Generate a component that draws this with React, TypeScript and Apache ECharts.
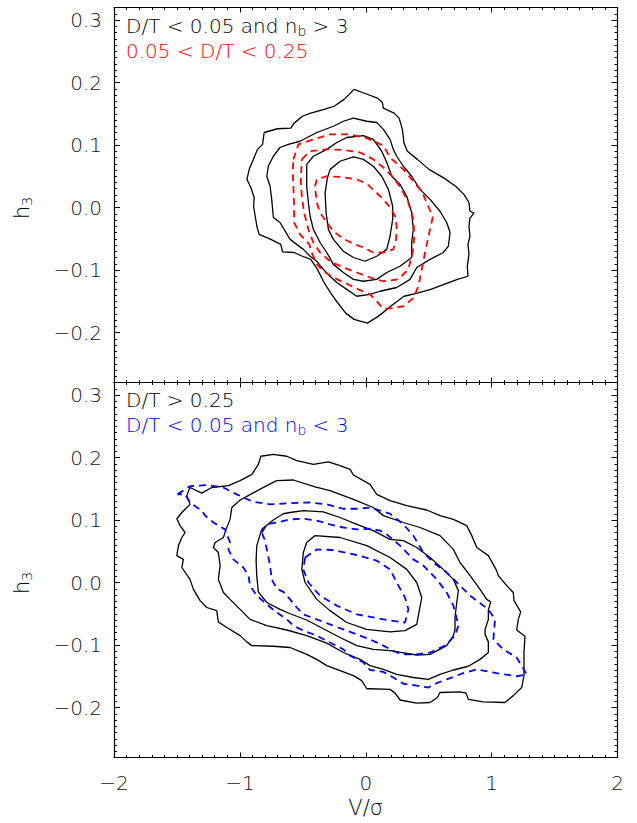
import React, { useEffect, useRef } from "react";
import * as echarts from "echarts";

// ---------- axes ----------
const xMin = -2;
const xMax = 2;
const xInterval = 1;
const yMin = -0.28;
const yMax = 0.32;
const yTickValues = [-0.2, -0.1, 0.0, 0.1, 0.2, 0.3];
const yMinorStep = 0.01;

// ---------- texts ----------
const topLegendBlack = "{t|D/T < 0.05 and n}{s|b}{t| > 3}";
const topLegendRed = "0.05 < D/T < 0.25";
const botLegendBlack = "D/T > 0.25";
const botLegendBlue = "{t|D/T < 0.05 and n}{s|b}{t| < 3}";
const yName = "{h|h}{s|3}";
const xName = "V/\u03c3";

// ---------- top panel contours ----------
const topBlack1 = [
  [-0.093, 0.189], [0.0, 0.182], [0.093, 0.175], [0.132, 0.168], [0.14, 0.159], [0.225, 0.151],
  [0.265, 0.143], [0.291, 0.125], [0.304, 0.103], [0.331, 0.09], [0.41, 0.077], [0.503, 0.061],
  [0.622, 0.047], [0.714, 0.034], [0.78, 0.021], [0.82, 0.008], [0.828, -0.006], [0.86, -0.009],
  [0.828, -0.017], [0.82, -0.03], [0.828, -0.046], [0.812, -0.059], [0.82, -0.075], [0.807, -0.094],
  [0.812, -0.11], [0.728, -0.115], [0.622, -0.123], [0.516, -0.131], [0.41, -0.137], [0.304, -0.142],
  [0.198, -0.158], [0.132, -0.169], [0.093, -0.175], [0.013, -0.185], [-0.093, -0.179], [-0.159, -0.169],
  [-0.225, -0.152], [-0.278, -0.137], [-0.331, -0.12], [-0.384, -0.099], [-0.437, -0.083], [-0.503, -0.078],
  [-0.569, -0.072], [-0.661, -0.071], [-0.675, -0.059], [-0.754, -0.051], [-0.847, -0.043], [-0.865, -0.03],
  [-0.878, -0.014], [-0.891, 0.002], [-0.886, 0.016], [-0.913, 0.032], [-0.944, 0.045], [-0.926, 0.061],
  [-0.899, 0.074], [-0.86, 0.093], [-0.82, 0.101], [-0.807, 0.12], [-0.701, 0.126], [-0.595, 0.127],
  [-0.569, 0.135], [-0.503, 0.146], [-0.437, 0.151], [-0.331, 0.157], [-0.251, 0.162], [-0.172, 0.173],
  [-0.132, 0.181],
];
const topBlack2 = [
  [-0.522, 0.106], [-0.389, 0.12], [-0.257, 0.13], [-0.178, 0.138], [-0.098, 0.143], [0.008, 0.138],
  [0.087, 0.136], [0.14, 0.125], [0.193, 0.109], [0.219, 0.093], [0.246, 0.082], [0.299, 0.066],
  [0.365, 0.05], [0.431, 0.029], [0.511, 0.013], [0.59, -0.006], [0.643, -0.024], [0.67, -0.04],
  [0.656, -0.062], [0.616, -0.072], [0.511, -0.083], [0.405, -0.096], [0.352, -0.115], [0.246, -0.128],
  [0.114, -0.134], [0.034, -0.139], [-0.071, -0.142], [-0.151, -0.131], [-0.23, -0.12], [-0.284, -0.11],
  [-0.337, -0.099], [-0.389, -0.086], [-0.442, -0.078], [-0.496, -0.067], [-0.601, -0.051], [-0.681, -0.024],
  [-0.734, -0.016], [-0.747, 0.013], [-0.76, 0.034], [-0.786, 0.05], [-0.774, 0.066], [-0.734, 0.082],
  [-0.681, 0.096], [-0.615, 0.101],
];
const topBlack3 = [
  [-0.469, 0.069], [-0.416, 0.082], [-0.31, 0.093], [-0.23, 0.104], [-0.151, 0.112], [-0.019, 0.115],
  [0.06, 0.109], [0.127, 0.09], [0.167, 0.072], [0.207, 0.05], [0.272, 0.037], [0.326, 0.018],
  [0.365, -0.008], [0.378, -0.035], [0.365, -0.056], [0.365, -0.08], [0.272, -0.094], [0.167, -0.104],
  [0.087, -0.115], [-0.019, -0.118], [-0.098, -0.115], [-0.178, -0.104], [-0.257, -0.091], [-0.31, -0.072],
  [-0.363, -0.056], [-0.416, -0.035], [-0.442, -0.014], [-0.456, 0.008], [-0.469, 0.034], [-0.469, 0.056],
];
const topBlack4 = [
  [-0.283, 0.061], [-0.204, 0.074], [-0.098, 0.081], [-0.019, 0.077], [0.06, 0.066], [0.127, 0.05],
  [0.18, 0.029], [0.214, 0.002], [0.214, -0.019], [0.193, -0.046], [0.167, -0.067], [0.087, -0.078],
  [-0.006, -0.086], [-0.098, -0.08], [-0.178, -0.07], [-0.257, -0.051], [-0.297, -0.035], [-0.315, -0.008],
  [-0.323, 0.023], [-0.305, 0.047],
];
const topRed1 = [
  [-0.575, 0.077], [-0.535, 0.101], [-0.416, 0.109], [-0.283, 0.117], [-0.125, 0.117], [0.008, 0.111],
  [0.14, 0.099], [0.193, 0.08], [0.299, 0.061], [0.365, 0.045], [0.445, 0.026], [0.497, 0.002],
  [0.532, -0.016], [0.505, -0.04], [0.471, -0.072], [0.445, -0.099], [0.418, -0.126], [0.378, -0.145],
  [0.299, -0.158], [0.219, -0.161], [0.14, -0.162], [0.087, -0.15], [0.034, -0.139], [-0.059, -0.131],
  [-0.151, -0.122], [-0.257, -0.112], [-0.337, -0.102], [-0.389, -0.091], [-0.429, -0.072], [-0.448, -0.059],
  [-0.522, -0.043], [-0.569, -0.024], [-0.569, 0.002], [-0.575, 0.034], [-0.58, 0.056],
];
const topRed2 = [
  [-0.508, 0.077], [-0.442, 0.09], [-0.31, 0.093], [-0.178, 0.092], [-0.045, 0.088], [0.06, 0.077],
  [0.14, 0.064], [0.219, 0.048], [0.286, 0.029], [0.338, 0.008], [0.378, -0.019], [0.386, -0.046],
  [0.373, -0.072], [0.338, -0.099], [0.259, -0.115], [0.14, -0.118], [0.034, -0.112], [-0.071, -0.104],
  [-0.178, -0.096], [-0.284, -0.086], [-0.363, -0.072], [-0.416, -0.056], [-0.456, -0.035], [-0.49, -0.008],
  [-0.508, 0.018], [-0.516, 0.045],
];
const topRed3 = [
  [-0.403, 0.034], [-0.389, 0.045], [-0.31, 0.05], [-0.204, 0.049], [-0.071, 0.045], [0.008, 0.038],
  [0.074, 0.026], [0.14, 0.013], [0.193, 0.0], [0.233, -0.014], [0.246, -0.03], [0.241, -0.051],
  [0.219, -0.067], [0.14, -0.072], [0.06, -0.072], [-0.019, -0.064], [-0.098, -0.058], [-0.178, -0.05],
  [-0.257, -0.038], [-0.31, -0.024], [-0.363, -0.008], [-0.389, 0.008],
];

// ---------- bottom panel contours ----------
const botBlack1 = [
  [-1.396, 0.152], [-1.303, 0.143], [-1.223, 0.152], [-1.091, 0.155], [-0.998, 0.163], [-0.905, 0.173],
  [-0.853, 0.189], [-0.834, 0.202], [-0.734, 0.205], [-0.627, 0.202], [-0.548, 0.195], [-0.416, 0.189],
  [-0.297, 0.193], [-0.204, 0.187], [-0.125, 0.181], [-0.098, 0.172], [0.034, 0.157], [0.087, 0.141],
  [0.193, 0.131], [0.325, 0.123], [0.484, 0.116], [0.59, 0.107], [0.696, 0.101], [0.802, 0.091],
  [0.842, 0.075], [0.882, 0.056], [0.974, 0.043], [1.04, 0.019], [1.053, 0.011], [1.12, -0.005],
  [1.172, -0.016], [1.178, -0.029], [1.231, -0.047], [1.212, -0.059], [1.199, -0.076], [1.265, -0.086],
  [1.257, -0.112], [1.257, -0.149], [1.239, -0.168], [1.172, -0.181], [1.106, -0.192], [0.934, -0.191],
  [0.815, -0.187], [0.797, -0.177], [0.749, -0.175], [0.59, -0.176], [0.569, -0.184], [0.511, -0.192],
  [0.405, -0.193], [0.273, -0.188], [0.233, -0.177], [0.193, -0.171], [0.034, -0.17], [0.008, -0.17],
  [-0.032, -0.157], [-0.098, -0.149], [-0.204, -0.141], [-0.31, -0.133], [-0.389, -0.123], [-0.469, -0.115],
  [-0.601, -0.104], [-0.734, -0.102], [-0.905, -0.101], [-0.945, -0.095], [-0.998, -0.085], [-1.104, -0.072],
  [-1.171, -0.063], [-1.184, -0.045], [-1.263, -0.04], [-1.316, -0.029], [-1.369, -0.011], [-1.396, 0.005],
  [-1.461, 0.024], [-1.449, 0.037], [-1.501, 0.043], [-1.488, 0.059], [-1.461, 0.072], [-1.435, 0.08],
  [-1.475, 0.091], [-1.501, 0.102], [-1.461, 0.112], [-1.396, 0.125], [-1.422, 0.139],
];
const botBlack2 = [
  [-0.707, 0.163], [-0.575, 0.164], [-0.403, 0.153], [-0.284, 0.147], [-0.098, 0.133], [0.06, 0.12],
  [0.14, 0.107], [0.299, 0.096], [0.431, 0.088], [0.59, 0.075], [0.696, 0.053], [0.749, 0.032],
  [0.829, 0.011], [0.908, -0.011], [0.961, -0.027], [0.993, -0.031], [0.974, -0.044], [0.974, -0.059],
  [0.948, -0.075], [0.948, -0.083], [0.974, -0.095], [0.974, -0.112], [0.908, -0.123], [0.815, -0.134],
  [0.696, -0.14], [0.59, -0.147], [0.497, -0.155], [0.378, -0.152], [0.246, -0.147], [0.14, -0.139],
  [0.034, -0.133], [-0.045, -0.123], [-0.178, -0.112], [-0.31, -0.097], [-0.469, -0.085], [-0.627, -0.076],
  [-0.786, -0.069], [-0.919, -0.059], [-0.998, -0.043], [-1.078, -0.027], [-1.131, -0.016], [-1.171, 0.005],
  [-1.157, 0.027], [-1.171, 0.048], [-1.21, 0.056], [-1.197, 0.064], [-1.131, 0.072], [-1.11, 0.085],
  [-1.078, 0.101], [-1.064, 0.12], [-0.998, 0.132], [-0.879, 0.145], [-0.786, 0.155],
];
const botBlack3 = [
  [-0.826, 0.085], [-0.734, 0.1], [-0.655, 0.11], [-0.601, 0.112], [-0.496, 0.115], [-0.337, 0.113],
  [-0.204, 0.104], [-0.071, 0.093], [0.06, 0.083], [0.193, 0.069], [0.299, 0.067], [0.405, 0.056],
  [0.511, 0.04], [0.616, 0.021], [0.696, 0.005], [0.736, -0.013], [0.723, -0.032], [0.709, -0.056],
  [0.709, -0.075], [0.696, -0.085], [0.643, -0.101], [0.511, -0.115], [0.405, -0.116], [0.193, -0.109],
  [0.06, -0.107], [-0.071, -0.101], [-0.204, -0.088], [-0.337, -0.074], [-0.469, -0.06], [-0.601, -0.05],
  [-0.681, -0.043], [-0.786, -0.032], [-0.853, -0.015], [-0.866, 0.011], [-0.871, 0.035], [-0.866, 0.059],
];
const botBlack4 = [
  [-0.403, 0.075], [-0.204, 0.072], [0.008, 0.059], [0.193, 0.04], [0.326, 0.021], [0.405, 0.0],
  [0.445, -0.024], [0.418, -0.053], [0.405, -0.067], [0.312, -0.077], [0.193, -0.079], [0.008, -0.075],
  [-0.151, -0.064], [-0.284, -0.045], [-0.389, -0.027], [-0.482, 0.0], [-0.508, 0.021], [-0.496, 0.048],
  [-0.469, 0.064],
];
const botBlue1 = [
  [-1.496, 0.141], [-1.396, 0.154], [-1.263, 0.156], [-1.131, 0.152], [-1.025, 0.141], [-0.893, 0.129],
  [-0.76, 0.125], [-0.601, 0.127], [-0.442, 0.128], [-0.31, 0.125], [-0.178, 0.118], [-0.045, 0.118],
  [0.034, 0.12], [0.114, 0.115], [0.193, 0.11], [0.299, 0.093], [0.378, 0.075], [0.458, 0.048],
  [0.537, 0.032], [0.643, 0.016], [0.749, -0.005], [0.829, -0.021], [0.974, -0.043], [1.027, -0.059],
  [1.014, -0.091], [1.093, -0.107], [1.199, -0.12], [1.279, -0.147], [1.199, -0.15], [1.04, -0.145],
  [0.882, -0.139], [0.775, -0.145], [0.643, -0.155], [0.564, -0.161], [0.497, -0.168], [0.405, -0.165],
  [0.299, -0.162], [0.219, -0.152], [0.14, -0.143], [0.034, -0.14], [-0.019, -0.128], [-0.125, -0.117],
  [-0.178, -0.107], [-0.284, -0.096], [-0.389, -0.085], [-0.496, -0.077], [-0.575, -0.069], [-0.627, -0.059],
  [-0.707, -0.048], [-0.786, -0.035], [-0.866, -0.021], [-0.919, -0.005], [-0.932, 0.011], [-0.972, 0.024],
  [-1.052, 0.037], [-1.091, 0.053], [-1.078, 0.064], [-1.118, 0.085], [-1.21, 0.096], [-1.276, 0.107],
  [-1.303, 0.115], [-1.396, 0.128], [-1.435, 0.141],
];
const botBlue2 = [
  [-0.826, 0.08], [-0.786, 0.093], [-0.707, 0.096], [-0.601, 0.101], [-0.496, 0.102], [-0.389, 0.099],
  [-0.284, 0.093], [-0.178, 0.088], [-0.071, 0.085], [0.034, 0.086], [0.114, 0.083], [0.167, 0.077],
  [0.273, 0.059], [0.378, 0.037], [0.458, 0.027], [0.564, 0.005], [0.643, -0.016], [0.696, -0.037],
  [0.717, -0.053], [0.736, -0.069], [0.709, -0.085], [0.63, -0.101], [0.511, -0.112], [0.405, -0.115],
  [0.299, -0.115], [0.246, -0.112], [0.14, -0.101], [0.034, -0.091], [-0.071, -0.083], [-0.178, -0.075],
  [-0.284, -0.067], [-0.389, -0.059], [-0.496, -0.051], [-0.548, -0.04], [-0.601, -0.027], [-0.654, -0.015],
  [-0.707, -0.01], [-0.747, 0.005], [-0.76, 0.027], [-0.781, 0.048], [-0.8, 0.067],
];
const botBlue3 = [
  [-0.482, 0.04], [-0.389, 0.053], [-0.257, 0.052], [-0.071, 0.044], [0.087, 0.035], [0.193, 0.021],
  [0.246, 0.0], [0.312, -0.024], [0.339, -0.043], [0.312, -0.064], [0.14, -0.059], [-0.071, -0.051],
  [-0.23, -0.037], [-0.363, -0.021], [-0.456, 0.0], [-0.496, 0.021],
];

const FONT = "DejaVu Sans";
const WEIGHT = 300;
const RED = "#ff0000";
const BLUE = "#0000ff";
const INK = "#000000";

const minus = (s: string) => s.replace("-", "\u2212");
const fmtX = (v: number) => minus(String(Math.round(v)));
const fmtY = (v: number) => (Math.abs(v) < 1e-9 ? "0.0" : minus(v.toFixed(1)));

function xAxisDef(gridIndex: number, position: string, showLabels: boolean) {
  return {
    type: "value",
    gridIndex,
    position,
    min: xMin,
    max: xMax,
    interval: xInterval,
    axisLine: { show: true, onZero: false, lineStyle: { color: INK, width: 1.2 } },
    axisTick: { show: true, inside: true, length: 5, lineStyle: { color: INK, width: 1 } },
    minorTick: { show: true, splitNumber: 10, length: 2.5, lineStyle: { color: INK, width: 1 } },
    axisLabel: {
      show: showLabels,
      margin: 15,
      fontSize: 20,
      fontFamily: FONT,
      fontWeight: WEIGHT,
      color: "#111",
      formatter: fmtX,
      showMinLabel: true,
      showMaxLabel: true,
    },
    splitLine: { show: false },
    minorSplitLine: { show: false },
  };
}

function yAxesDef(gridIndex: number) {
  const major = (position: string, showLabels: boolean) => ({
    type: "value",
    gridIndex,
    position,
    min: yMin,
    max: yMax,
    axisLine: { show: true, onZero: false, lineStyle: { color: INK, width: 1.2 } },
    axisTick: { show: true, inside: true, length: 6, customValues: yTickValues, lineStyle: { color: INK, width: 1 } },
    axisLabel: {
      show: showLabels,
      customValues: yTickValues,
      margin: 12,
      fontSize: 20,
      fontFamily: FONT,
      fontWeight: WEIGHT,
      color: "#111",
      formatter: fmtY,
    },
    splitLine: { show: false },
  });
  const minor = (position: string) => ({
    type: "value",
    gridIndex,
    position,
    min: yMin,
    max: yMax,
    interval: yMinorStep,
    axisLine: { show: false, onZero: false },
    axisTick: { show: true, inside: true, length: 3, lineStyle: { color: INK, width: 1 } },
    axisLabel: { show: false },
    splitLine: { show: false },
  });
  return [major("left", true), minor("left"), major("right", false), minor("right")];
}

function contour(data: number[][], xi: number, yi: number, color: string, dashed: boolean) {
  return {
    type: "line",
    xAxisIndex: xi,
    yAxisIndex: yi,
    data: [...data, data[0]],
    showSymbol: false,
    symbol: "none",
    silent: true,
    smooth: false,
    lineStyle: { color, width: dashed ? 1.8 : 1.3, type: dashed ? [7, 5] : "solid" },
    z: dashed ? 3 : 2,
  };
}

const richBase = (fill: string) => ({
  t: { fontSize: 20, fontFamily: FONT, fontWeight: WEIGHT, fill, color: fill, lineHeight: 24 },
  s: { fontSize: 14, fontFamily: FONT, fontWeight: WEIGHT, fill, color: fill, lineHeight: 14, verticalAlign: "bottom" },
});

function legendText(x: number, y: number, text: string, fill: string) {
  return {
    type: "text",
    x,
    y,
    z: 10,
    style: {
      text,
      fill,
      fontSize: 20,
      fontFamily: FONT,
      fontWeight: WEIGHT,
      align: "left",
      verticalAlign: "middle",
      rich: richBase(fill),
    },
  };
}

function yNameText(y: number) {
  return {
    type: "text",
    x: 22,
    y,
    rotation: Math.PI / 2,
    z: 10,
    style: {
      text: yName,
      fill: INK,
      fontSize: 20,
      fontFamily: FONT,
      fontWeight: WEIGHT,
      align: "center",
      verticalAlign: "middle",
      rich: {
        h: { fontSize: 21, fontFamily: FONT, fontWeight: WEIGHT, fill: INK, lineHeight: 24 },
        s: { fontSize: 14, fontFamily: FONT, fontWeight: WEIGHT, fill: INK, lineHeight: 14, verticalAlign: "bottom" },
      },
    },
  };
}

export default function App() {
  const ref = useRef<HTMLDivElement>(null);
  useEffect(() => {
    if (!ref.current) return;
    const chart = echarts.init(ref.current, null, { renderer: "svg" });
    const option = {
      animation: false,
      backgroundColor: "#ffffff",
      textStyle: { fontFamily: FONT, fontWeight: WEIGHT },
      grid: [
        { left: 114, right: 19.5, top: 7.5, height: 375 },
        { left: 114, right: 19.5, top: 382.5, height: 375 },
      ],
      xAxis: [
        xAxisDef(0, "bottom", false),
        xAxisDef(0, "top", false),
        xAxisDef(1, "bottom", true),
        xAxisDef(1, "top", false),
      ],
      yAxis: [...yAxesDef(0), ...yAxesDef(1)],
      series: [
        contour(topBlack1, 0, 0, INK, false),
        contour(topBlack2, 0, 0, INK, false),
        contour(topBlack3, 0, 0, INK, false),
        contour(topBlack4, 0, 0, INK, false),
        contour(topRed1, 0, 0, RED, true),
        contour(topRed2, 0, 0, RED, true),
        contour(topRed3, 0, 0, RED, true),
        contour(botBlack1, 2, 4, INK, false),
        contour(botBlack2, 2, 4, INK, false),
        contour(botBlack3, 2, 4, INK, false),
        contour(botBlack4, 2, 4, INK, false),
        contour(botBlue1, 2, 4, BLUE, true),
        contour(botBlue2, 2, 4, BLUE, true),
        contour(botBlue3, 2, 4, BLUE, true),
      ],
      graphic: [
        legendText(126, 26, topLegendBlack, INK),
        legendText(126, 51, topLegendRed, RED),
        legendText(126, 400, botLegendBlack, INK),
        legendText(126, 425, botLegendBlue, BLUE),
        yNameText(208),
        yNameText(583),
        {
          type: "text",
          x: 365.7,
          y: 808,
          z: 10,
          style: {
            text: xName,
            fill: INK,
            fontSize: 21,
            fontFamily: FONT,
            fontWeight: WEIGHT,
            align: "center",
            verticalAlign: "middle",
          },
        },
      ],
    };
    chart.setOption(option as any);
    return () => chart.dispose();
  }, []);
  return (
    <div
      ref={ref}
      style={{ position: "fixed", left: 0, top: 0, width: 637, height: 823, background: "#fff" }}
    />
  );
}
